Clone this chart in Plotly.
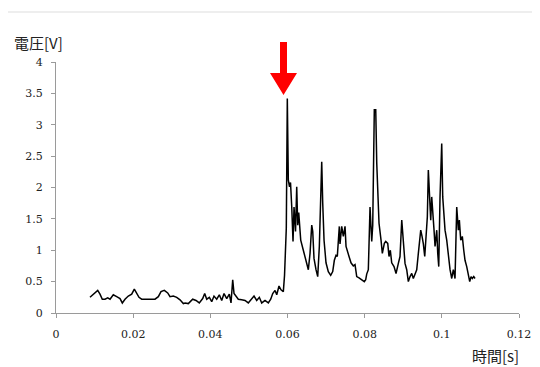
import plotly.graph_objects as go

# time [s]
time_s = [
    0.00881, 0.00967, 0.01081, 0.01140, 0.01200, 0.01270, 0.01340, 0.01400, 0.01485, 0.01573,
    0.01659, 0.01719, 0.01788, 0.01874, 0.01962, 0.02030, 0.02092, 0.02151, 0.02221, 0.02307,
    0.02392, 0.02481, 0.02566, 0.02652, 0.02722, 0.02807, 0.02895, 0.02955, 0.03040, 0.03129,
    0.03214, 0.03300, 0.03344, 0.03429, 0.03543, 0.03629, 0.03714, 0.03802, 0.03854, 0.03906,
    0.03974, 0.04036, 0.04095, 0.04165, 0.04233, 0.04295, 0.04355, 0.04425, 0.04492, 0.04536,
    0.04580, 0.04614, 0.04666, 0.04725, 0.04813, 0.04899, 0.04984, 0.05073, 0.05132, 0.05202,
    0.05270, 0.05332, 0.05417, 0.05503, 0.05565, 0.05617, 0.05677, 0.05721, 0.05780, 0.05832,
    0.05892, 0.05923, 0.05949, 0.05969, 0.05995, 0.06021, 0.06052, 0.06078, 0.06109, 0.06143,
    0.06169, 0.06208, 0.06239, 0.06265, 0.06291, 0.06343, 0.06410, 0.06480, 0.06540, 0.06584,
    0.06628, 0.06654, 0.06687, 0.06739, 0.06783, 0.06825, 0.06887, 0.06913, 0.06947, 0.06998,
    0.07058, 0.07120, 0.07172, 0.07214, 0.07258, 0.07291, 0.07343, 0.07361, 0.07405, 0.07447,
    0.07491, 0.07517, 0.07561, 0.07595, 0.07646, 0.07706, 0.07750, 0.07794, 0.07854, 0.07924,
    0.07991, 0.08027, 0.08053, 0.08095, 0.08139, 0.08183, 0.08209, 0.08250, 0.08287, 0.08313,
    0.08338, 0.08372, 0.08424, 0.08458, 0.08510, 0.08546, 0.08598, 0.08631, 0.08665, 0.08701,
    0.08761, 0.08813, 0.08873, 0.08916, 0.08961, 0.09002, 0.09046, 0.09090, 0.09132, 0.09176,
    0.09220, 0.09261, 0.09305, 0.09349, 0.09391, 0.09453, 0.09487, 0.09521, 0.09557, 0.09590,
    0.09624, 0.09650, 0.09676, 0.09712, 0.09738, 0.09764, 0.09798, 0.09824, 0.09868, 0.09894,
    0.09920, 0.09953, 0.09997, 0.10023, 0.10057, 0.10083, 0.10127, 0.10169, 0.10213, 0.10257,
    0.10298, 0.10342, 0.10386, 0.10428, 0.10454, 0.10490, 0.10531, 0.10568, 0.10601, 0.10645,
    0.10687, 0.10723, 0.10757, 0.10791, 0.10827, 0.10860,
]

# voltage [V]
voltage_v = [
    0.25, 0.30, 0.36, 0.30, 0.22, 0.22, 0.24, 0.22, 0.29, 0.26,
    0.23, 0.16, 0.22, 0.27, 0.30, 0.38, 0.32, 0.25, 0.22, 0.22,
    0.22, 0.23, 0.22, 0.26, 0.34, 0.36, 0.32, 0.26, 0.27, 0.25,
    0.21, 0.15, 0.16, 0.15, 0.22, 0.20, 0.16, 0.23, 0.31, 0.22,
    0.25, 0.18, 0.27, 0.22, 0.29, 0.20, 0.31, 0.23, 0.30, 0.16,
    0.53, 0.31, 0.26, 0.22, 0.21, 0.20, 0.16, 0.22, 0.27, 0.20,
    0.25, 0.16, 0.20, 0.16, 0.22, 0.31, 0.36, 0.29, 0.43, 0.37,
    0.34, 0.60, 1.30, 1.35, 3.42, 2.12, 2.01, 2.08, 1.70, 1.14,
    1.69, 1.30, 2.01, 1.40, 1.60, 1.16, 1.00, 0.84, 0.69, 0.95,
    1.40, 1.30, 0.87, 0.69, 0.58, 1.06, 2.41, 1.75, 1.16, 0.80,
    0.66, 0.60, 0.66, 0.84, 0.92, 0.90, 1.38, 1.10, 1.38, 1.22,
    1.38, 1.06, 0.95, 0.90, 0.80, 0.75, 0.77, 0.58, 0.56, 0.53,
    0.50, 0.53, 0.62, 0.69, 1.69, 1.14, 1.40, 3.24, 3.24, 2.39,
    1.85, 1.43, 1.16, 0.95, 1.11, 1.14, 1.11, 0.90, 1.00, 0.80,
    0.74, 0.63, 0.79, 0.90, 1.48, 1.11, 0.79, 0.69, 0.50, 0.58,
    0.63, 0.55, 0.63, 0.69, 0.95, 1.32, 1.22, 1.10, 0.90, 1.27,
    1.53, 2.28, 1.96, 1.48, 1.85, 1.53, 1.32, 1.06, 1.32, 0.95,
    0.74, 1.85, 2.70, 1.85, 1.59, 1.32, 1.16, 0.90, 0.69, 0.55,
    0.69, 0.55, 1.69, 1.32, 1.48, 1.16, 1.22, 1.00, 0.84, 0.74,
    0.58, 0.50, 0.58, 0.55, 0.58, 0.55,
]

x_tick_vals = [0, 0.02, 0.04, 0.06, 0.08, 0.10, 0.12]
x_tick_text = ["0", "0.02", "0.04", "0.06", "0.08", "0.1", "0.12"]
y_tick_vals = [0, 0.5, 1, 1.5, 2, 2.5, 3, 3.5, 4]
y_tick_text = ["0", "0.5", "1", "1.5", "2", "2.5", "3", "3.5", "4"]

# page body has an 8px default margin; figure is sized/offset to compensate
OFF = 8
W, H = 540 - OFF, 367 - OFF
# plot area in screen pixels: x 56..519, y 62..313
L = 56 - OFF
R = W - (519 - OFF)
T = 62 - OFF
B = H - (313 - OFF)
pw, ph = W - L - R, H - T - B


def px(xs):
    """screen x pixel -> paper coordinate"""
    return (xs - OFF - L) / pw


def py(ys):
    """screen y pixel -> paper coordinate"""
    return (H - B - (ys - OFF)) / ph


fig = go.Figure()
fig.add_trace(go.Scatter(
    x=time_s, y=voltage_v, mode="lines",
    line=dict(color="black", width=1.5),
    showlegend=False, hoverinfo="skip",
))

tick_font = dict(family="DejaVu Serif, serif", size=11, color="#222")
axis_common = dict(
    showline=True, linecolor="#9a9a9a", linewidth=1,
    ticks="outside", tickcolor="#9a9a9a", ticklen=4,
    showgrid=False, zeroline=False, tickfont=tick_font,
    automargin=False,
)

fig.update_layout(
    width=W, height=H,
    margin=dict(l=L, r=R, t=T, b=B, autoexpand=False),
    paper_bgcolor="white", plot_bgcolor="white",
    xaxis=dict(range=[0, 0.12], tickvals=x_tick_vals, ticktext=x_tick_text,
               ticklabelstandoff=7, **axis_common),
    yaxis=dict(range=[0, 4], tickvals=y_tick_vals, ticktext=y_tick_text,
               ticklabelstandoff=6, **axis_common),
)

cjk = dict(family="Noto Sans CJK JP", size=15, color="#222")
fig.add_annotation(text="電圧[V]", xref="paper", yref="paper",
                   x=px(12), y=py(42), xanchor="left", yanchor="middle",
                   showarrow=False, font=cjk)
fig.add_annotation(text="時間[s]", xref="paper", yref="paper",
                   x=px(521), y=py(355), xanchor="right", yanchor="middle",
                   showarrow=False, font=cjk)

# top light border line
fig.add_shape(type="line", xref="paper", yref="paper",
              x0=px(OFF), x1=px(540), y0=py(12), y1=py(12),
              line=dict(color="#dddddd", width=1))

# red arrow
path = (f"M {px(280)},{py(42)} L {px(287)},{py(42)} L {px(287)},{py(73)} "
        f"L {px(297)},{py(73)} L {px(283.5)},{py(95)} L {px(270)},{py(73)} "
        f"L {px(280)},{py(73)} Z")
fig.add_shape(type="path", xref="paper", yref="paper", path=path,
              fillcolor="#ff0000", line=dict(color="#ff0000", width=0))

fig.write_html("out.html")
